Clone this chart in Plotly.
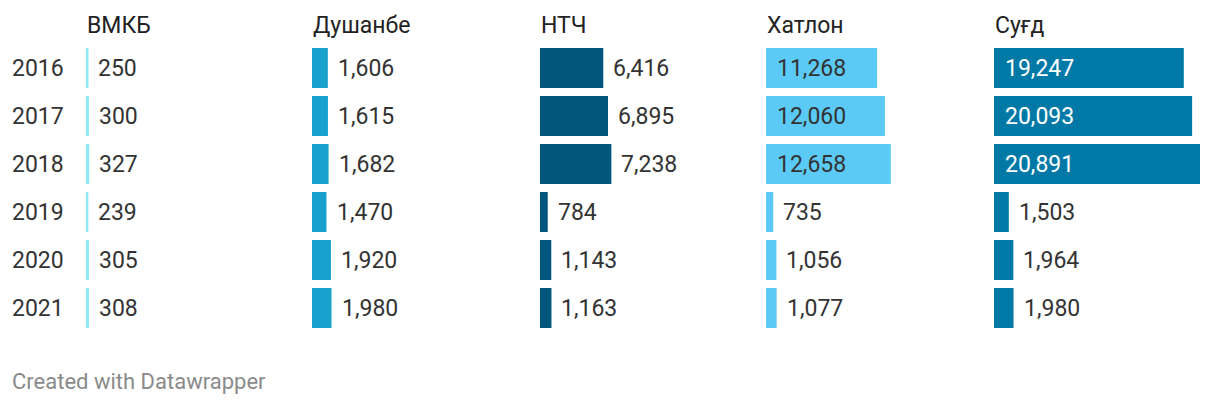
import plotly.graph_objects as go

# ---------------- data ----------------
years = ["2016", "2017", "2018", "2019", "2020", "2021"]
regions = ["ВМКБ", "Душанбе", "НТЧ", "Хатлон", "Суғд"]
vmkb = [250, 300, 327, 239, 305, 308]
dushanbe = [1606, 1615, 1682, 1470, 1920, 1980]
ntc = [6416, 6895, 7238, 784, 1143, 1163]
khatlon = [11268, 12060, 12658, 735, 1056, 1077]
sughd = [19247, 20093, 20891, 1503, 1964, 1980]
series = [vmkb, dushanbe, ntc, khatlon, sughd]

# ---------------- style ----------------
colors = ["#8ee9f4", "#18a1cd", "#00567c", "#5bcaf6", "#0079a6"]
inside_colors = ["#333333", "#ffffff", "#ffffff", "#333333", "#ffffff"]
W, H = 1220, 404
FONT = "Roboto"
FS = 23
TXT = "#333333"
panel_left = [86, 312, 540, 766, 994]
px_per_unit = 206.0 / 20891.0
panel_w = 218.0
xmax = panel_w / px_per_unit
pad = 8
row_top, row_bottom = 44, 332


def fmt(v):
    return f"{v:,}"


def est_w(s):
    return sum(4.6 if c == "," else 12.9 for c in s)


fig = go.Figure()
annotations = []

for i, (name, vals) in enumerate(zip(regions, series)):
    ax = "x" if i == 0 else f"x{i+1}"
    fig.add_trace(go.Bar(
        x=vals, y=years, orientation="h",
        xaxis=ax, yaxis="y",
        marker=dict(color=colors[i], line=dict(width=0)),
        hoverinfo="skip", showlegend=False,
    ))
    axkey = "xaxis" if i == 0 else f"xaxis{i+1}"
    x0 = panel_left[i] / W
    x1 = (panel_left[i] + panel_w) / W
    fig.update_layout(**{axkey: dict(
        domain=[x0, x1], range=[0, xmax], anchor="y",
        showgrid=False, zeroline=False, showticklabels=False,
        showline=False, ticks="", fixedrange=True,
    )})
    # title
    annotations.append(dict(
        text=name, xref="paper", yref="paper",
        x=(panel_left[i] - 1) / W, y=1 - 25 / H,
        xanchor="left", yanchor="middle", showarrow=False,
        font=dict(family=FONT, size=FS, color="#222222"),
    ))
    # value labels (category axis -> use category index)
    pad_u = pad / px_per_unit
    for k, v in enumerate(vals):
        lab = fmt(v)
        bar_px = v * px_per_unit
        inside = est_w(lab) + 2 * 10 <= bar_px
        annotations.append(dict(
            text=lab, xref=ax, yref="y",
            x=(pad_u + 1 / px_per_unit) if inside else v + pad_u, y=k,
            xanchor="left", yanchor="middle",
            showarrow=False,
            font=dict(family=FONT, size=FS,
                      color=inside_colors[i] if inside else TXT),
        ))

# year labels
for k, yr in enumerate(years):
    annotations.append(dict(
        text=yr, xref="paper", yref="y", x=10 / W, y=k,
        xanchor="left", yanchor="middle", showarrow=False,
        font=dict(family=FONT, size=FS, color=TXT),
    ))

# footer
annotations.append(dict(
    text="Created with Datawrapper", xref="paper", yref="paper",
    x=10 / W, y=1 - 381 / H, xanchor="left", yanchor="middle",
    showarrow=False, font=dict(family=FONT, size=22, color="#8a8a8a"),
))

fig.update_layout(
    width=W, height=H,
    margin=dict(l=0, r=0, t=0, b=0),
    paper_bgcolor="white", plot_bgcolor="white",
    barmode="overlay", bargap=8 / 48,
    yaxis=dict(
        type="category", categoryorder="array", categoryarray=years,
        range=[5.5, -0.5], domain=[1 - row_bottom / H, 1 - row_top / H],
        showgrid=False, zeroline=False, showticklabels=False,
        showline=False, ticks="", fixedrange=True,
    ),
    annotations=annotations,
)

fig.write_html("out.html")
